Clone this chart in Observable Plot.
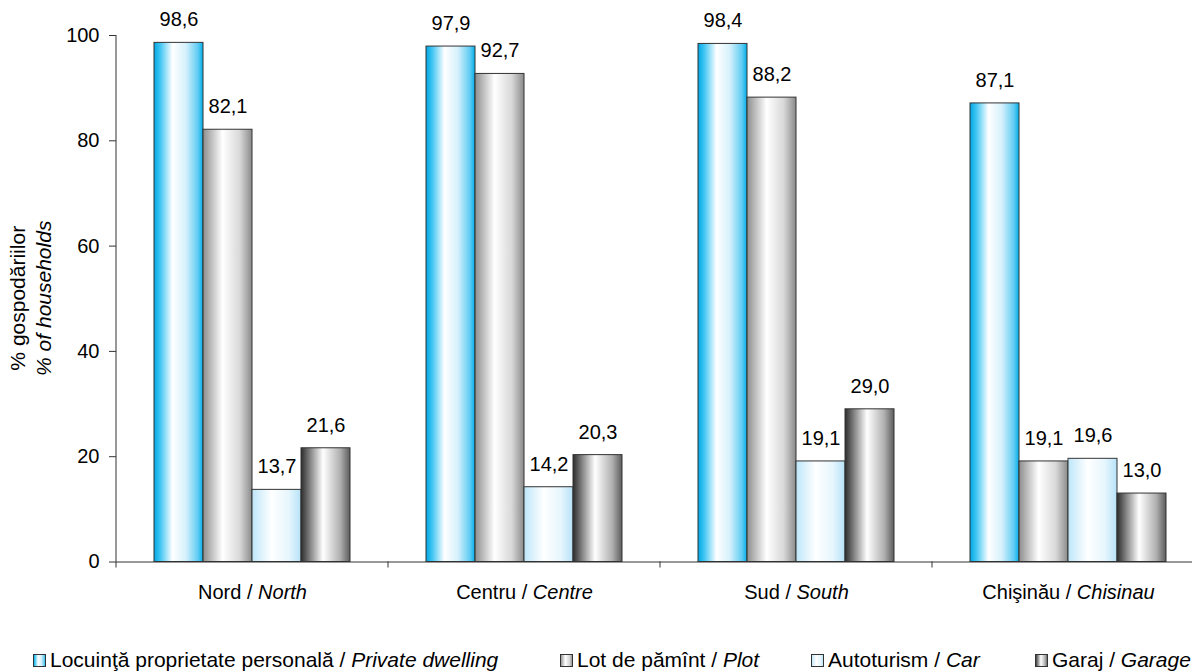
<!DOCTYPE html>
<html><head><meta charset="utf-8">
<script src="https://cdn.jsdelivr.net/npm/d3@7"></script>
<script src="https://cdn.jsdelivr.net/npm/@observablehq/plot@0.6"></script>
<style>
body{margin:0;background:#fff;font-family:"Liberation Sans",Arial,sans-serif;color:#000;}
#wrap{position:relative;width:1192px;height:671px;overflow:hidden;}
#legend{position:absolute;top:646px;left:0;width:1192px;height:28px;font-size:21px;}
.item{position:absolute;top:0;display:flex;align-items:center;white-space:nowrap;height:28px;}
</style></head>
<body>
<svg width="0" height="0" style="position:absolute">
  <defs>
    <linearGradient id="g0" x1="0" x2="1" y1="0" y2="0">
      <stop offset="0" stop-color="#00a6e6"/>
      <stop offset="0.12" stop-color="#3cc4f2"/>
      <stop offset="0.38" stop-color="#ffffff"/>
      <stop offset="0.65" stop-color="#d6f1fc"/>
      <stop offset="0.9" stop-color="#5ecbf3"/>
      <stop offset="1" stop-color="#00aeea"/>
    </linearGradient>
    <linearGradient id="g1" x1="0" x2="1" y1="0" y2="0">
      <stop offset="0" stop-color="#8e8e8e"/>
      <stop offset="0.4" stop-color="#ffffff"/>
      <stop offset="0.75" stop-color="#d8d8d8"/>
      <stop offset="1" stop-color="#8a8a8a"/>
    </linearGradient>
    <linearGradient id="g2" x1="0" x2="1" y1="0" y2="0">
      <stop offset="0" stop-color="#bde6f9"/>
      <stop offset="0.4" stop-color="#ffffff"/>
      <stop offset="0.75" stop-color="#e6f6fd"/>
      <stop offset="1" stop-color="#b6e2f7"/>
    </linearGradient>
    <linearGradient id="g3" x1="0" x2="1" y1="0" y2="0">
      <stop offset="0" stop-color="#2c2c2c"/>
      <stop offset="0.45" stop-color="#ffffff"/>
      <stop offset="0.8" stop-color="#b0b0b0"/>
      <stop offset="1" stop-color="#5c5c5c"/>
    </linearGradient>
  </defs>
</svg>
<div id="wrap"><div id="chart"></div><div id="legend"></div></div>
<script>
const regions = ["Nord", "Centru", "Sud", "Chişinău"];
const regionsEn = ["North", "Centre", "South", "Chisinau"];
const seriesRo = ["Locuinţă proprietate personală", "Lot de pămînt", "Autoturism", "Garaj"];
const seriesEn = ["Private dwelling", "Plot", "Car", "Garage"];
const privateDwelling = [98.6, 97.9, 98.4, 87.1];
const plotLand = [82.1, 92.7, 88.2, 19.1];
const car = [13.7, 14.2, 19.1, 19.6];
const garage = [21.6, 20.3, 29.0, 13.0];
const yTicks = [0, 20, 40, 60, 80, 100];
const yTitleRo = "% gospodăriilor";
const yTitleEn = "% of households";

const seriesValues = [privateDwelling, plotLand, car, garage];
const gradients = ["url(#g0)", "url(#g1)", "url(#g2)", "url(#g3)"];
const data = [];
regions.forEach((r, i) => seriesRo.forEach((s, j) => data.push({region: r, series: s, value: seriesValues[j][i]})));
const fmt = v => d3.format(".1f")(v).replace(".", ",");
const regionLabel = r => r + " / " + regionsEn[regions.indexOf(r)];

const chart = Plot.plot({
  width: 1192,
  height: 620,
  marginLeft: 115,
  marginRight: -12,
  marginTop: 35,
  marginBottom: 58.5,
  style: {fontSize: "20px", fontFamily: "'Liberation Sans', Arial, sans-serif", background: "#fff", color: "#000"},
  fx: {domain: regions, padding: 0, label: null, tickSize: 0, tickPadding: 23, tickFormat: regionLabel},
  x: {domain: seriesRo, paddingInner: 0, paddingOuter: 0.75, axis: null},
  y: {domain: [0, 100], label: null},
  color: {domain: seriesRo, range: gradients},
  marks: [
    Plot.axisY({ticks: yTicks, tickSize: 7, tickPadding: 10, label: null, stroke: "#333"}),
    Plot.barY(data, {fx: "region", x: "series", y: "value", fill: "series", stroke: "#333", strokeWidth: 1}),
    Plot.ruleY([0], {stroke: "#333", strokeWidth: 1}),
    Plot.text(data, {fx: "region", x: "series", y: "value", text: d => fmt(d.value), dy: -23, fill: "#000", fontSize: 20})
  ]
});

document.getElementById("chart").appendChild(chart);
const svg = d3.select(chart);

// italic English part of facet labels
svg.selectAll('g[aria-label="fx-axis tick label"] text').each(function() {
  const t = d3.select(this);
  const parts = t.text().split(" / ");
  if (parts.length === 2) {
    t.text(null);
    t.append("tspan").text(parts[0] + " / ");
    t.append("tspan").attr("font-style", "italic").text(parts[1]);
  }
});

// y-axis line and x-axis boundary ticks from the scales
const fx = chart.scale("fx");
const ys = chart.scale("y");
const y0 = ys.apply(0), y100 = ys.apply(100);
const xLeft = fx.apply(regions[0]);
svg.append("line").attr("x1", xLeft).attr("x2", xLeft).attr("y1", y100).attr("y2", y0).attr("stroke", "#333");
const bounds = regions.map(r => fx.apply(r));
bounds.push(fx.apply(regions[regions.length - 1]) + fx.bandwidth);
bounds.forEach(b => {
  svg.append("line").attr("x1", b).attr("x2", b).attr("y1", y0).attr("y2", y0 + 6).attr("stroke", "#333");
});

// y-axis title
const yMid = (y0 + y100) / 2;
svg.append("text").attr("transform", `translate(18,${yMid}) rotate(-90)`).attr("text-anchor", "middle")
  .attr("dy", "0.35em").attr("font-size", 21).text(yTitleRo);
svg.append("text").attr("transform", `translate(44,${yMid}) rotate(-90)`).attr("text-anchor", "middle")
  .attr("dy", "0.35em").attr("font-size", 21).attr("font-style", "italic").text(yTitleEn);

// legend
const legendLefts = [32, 559, 810, 1034];
const legend = d3.select("#legend");
seriesRo.forEach((s, i) => {
  const item = legend.append("div").attr("class", "item").style("left", legendLefts[i] + "px");
  const sw = item.append("svg").attr("width", 15).attr("height", 15).style("margin-right", "3px");
  sw.append("rect").attr("x", 1.5).attr("y", 1.5).attr("width", 12).attr("height", 12)
    .attr("fill", gradients[i]).attr("stroke", "#333");
  const lab = item.append("span");
  lab.append("span").text(s + " / ");
  lab.append("span").style("font-style", "italic").text(seriesEn[i]);
});
</script>
</body></html>
